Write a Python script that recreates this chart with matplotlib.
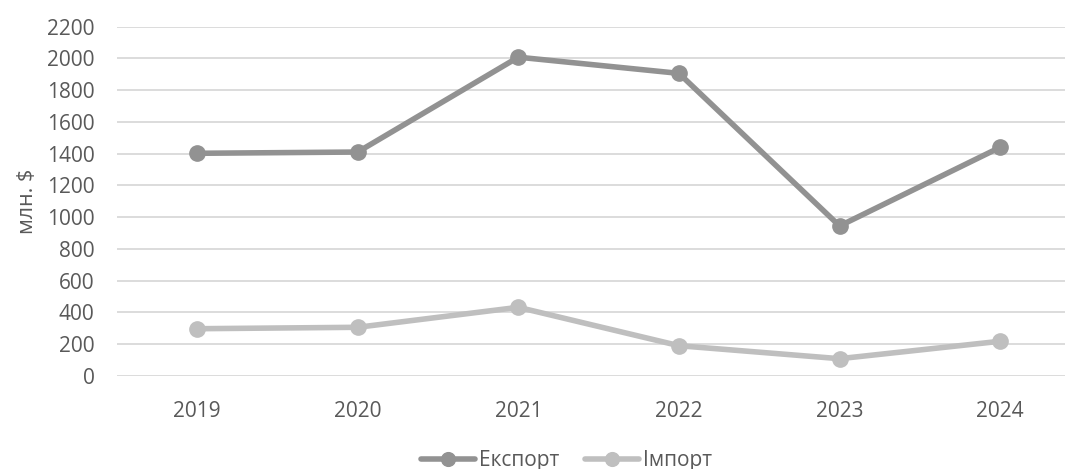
import matplotlib.pyplot as plt

years = ['2019', '2020', '2021', '2022', '2023', '2024']
export_vals = [1402, 1410, 2008, 1906, 944, 1440]
import_vals = [296, 305, 431, 189, 107, 217]
yticks = list(range(0, 2201, 200))

plt.rcParams['font.family'] = ['Open Sans', 'DejaVu Sans']
txt = '#595959'

fig = plt.figure(figsize=(10.65, 4.69), dpi=100)
ax = fig.add_axes([0.1096, 0.199, 0.905, 0.744])

x = range(len(years))
ax.plot(x, export_vals, color='#929292', lw=4, marker='o', ms=11,
        solid_capstyle='round', label='Експорт', zorder=3)
ax.plot(x, import_vals, color='#BFBFBF', lw=4, marker='o', ms=11,
        solid_capstyle='round', label='Імпорт', zorder=3)

ax.set_xlim(-0.5, len(years) - 0.5)
ax.set_ylim(0, 2200)
ax.set_yticks(yticks)
ax.set_xticks(list(x))
ax.set_xticklabels(years)
ax.grid(axis='y', color='#D9D9D9', lw=1.3)
ax.set_axisbelow(True)
for s in ax.spines.values():
    s.set_visible(False)
ax.tick_params(length=0, colors=txt, labelsize=15)
ax.tick_params(axis='x', pad=18)
ax.tick_params(axis='y', pad=16)
ax.set_ylabel('млн. $', color=txt, fontsize=15.5, labelpad=6)

fig.legend(loc='center', bbox_to_anchor=(0.532, 0.018), ncol=2, frameon=False,
           fontsize=15, labelcolor=txt, handlelength=2.6, handletextpad=0.2,
           columnspacing=1.2, markerscale=0.9)

fig.savefig('out.png', dpi=100)
